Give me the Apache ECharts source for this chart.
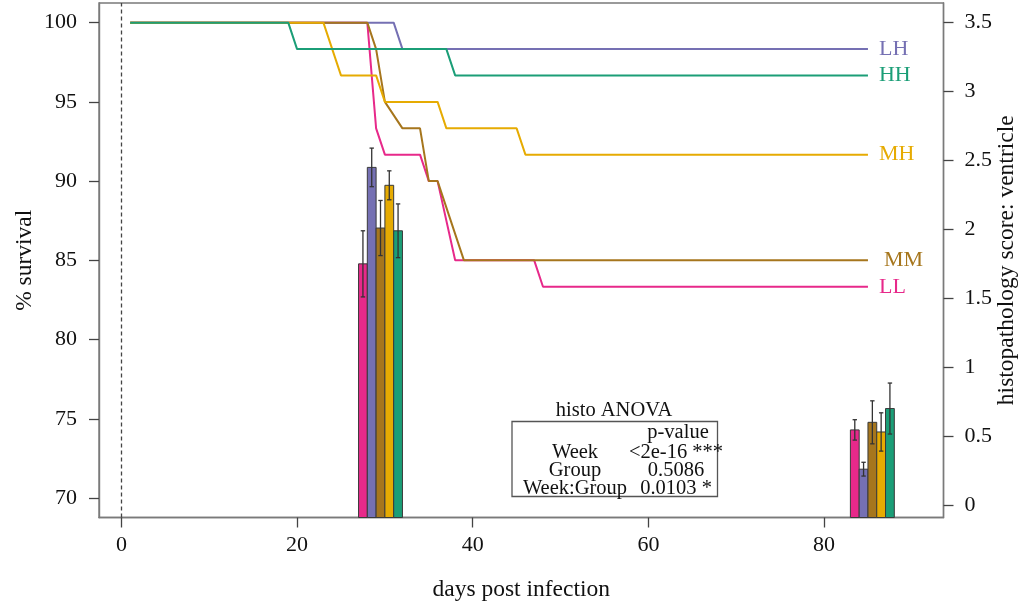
<!DOCTYPE html>
<html>
<head>
<meta charset="utf-8">
<title>Survival and histopathology</title>
<script src="https://cdn.jsdelivr.net/npm/echarts@6/dist/echarts.min.js"></script>
<style>
  html, body { margin: 0; padding: 0; background: #ffffff; }
  #chart { width: 1028px; height: 606px; }
</style>
</head>
<body>
<div id="chart"></div>
<script>
// ---- data ----------------------------------------------------------------
// Treatment groups, in the order the histology bars are drawn
const groups = ['LL', 'LH', 'MM', 'MH', 'HH'];
const groupColors = ['#E7298A', '#7570B3', '#A6761D', '#E6AB02', '#1B9E77'];

// Kaplan–Meier style survival (%), [day, percent] breakpoints per group
const survivalLL = [[1, 100], [28, 100], [29, 93.33], [30, 91.67], [34, 91.67], [35, 90], [36, 90], [38, 85], [47, 85], [48, 83.33], [85, 83.33]];
const survivalLH = [[1, 100], [31, 100], [32, 98.33], [85, 98.33]];
const survivalMM = [[1, 100], [28, 100], [29, 98.33], [30, 95], [32, 93.33], [34, 93.33], [35, 90], [36, 90], [39, 85], [85, 85]];
const survivalMH = [[1, 100], [23, 100], [25, 96.67], [29, 96.67], [30, 95], [36, 95], [37, 93.33], [45, 93.33], [46, 91.67], [85, 91.67]];
const survivalHH = [[1, 100], [19, 100], [20, 98.33], [37, 98.33], [38, 96.67], [85, 96.67]];

// Histopathology score (ventricle): mean and error per group, at two samplings
const histoStartDays = [27, 83];            // first bar's left edge (day) per sampling
const histoWeek4 = [1.75, 2.45, 2.01, 2.32, 1.99];
const histoWeek4Err = [0.24, 0.14, 0.20, 0.105, 0.195];
const histoWeek12 = [0.545, 0.26, 0.60, 0.53, 0.70];
const histoWeek12Err = [0.074, 0.05, 0.156, 0.139, 0.185];

// Axis ticks
const dayTicks = [0, 20, 40, 60, 80];
const survivalTicks = [70, 75, 80, 85, 90, 95, 100];
const scoreTicks = [0, 0.5, 1, 1.5, 2, 2.5, 3, 3.5];

// ANOVA summary table
const anovaTerms = ['Week', 'Group', 'Week:Group'];
const anovaP = ['<2e-16 ***', '0.5086', '0.0103 *'];

// ---- chart ---------------------------------------------------------------
const FONT = "'Liberation Serif', 'Times New Roman', serif";
const DAY_MIN = -2.55, DAY_MAX = 93.6;
const SURV_MIN = 68.77, SURV_MAX = 101.24;
const SCORE_MIN = -0.0907, SCORE_MAX = 3.643;

const survival = [survivalLL, survivalLH, survivalMM, survivalMH, survivalHH];

const histoData = [];
[histoWeek4, histoWeek12].forEach(function (vals, w) {
  const errs = w === 0 ? histoWeek4Err : histoWeek12Err;
  vals.forEach(function (v, i) {
    const x0 = histoStartDays[w] + i;
    histoData.push([x0, x0 + 1, v, errs[i], i]);
  });
});

function renderHisto(params, api) {
  const x0 = api.value(0), x1 = api.value(1), v = api.value(2), e = api.value(3);
  const gi = api.value(4);
  const tl = api.coord([x0, v]);
  const br = api.coord([x1, SCORE_MIN]);
  const xc = (x0 + x1) / 2;
  const top = api.coord([xc, v + e]);
  const bot = api.coord([xc, v - e]);
  const cap = 2.2;
  const errStyle = { stroke: '#333333', lineWidth: 1.3 };
  return {
    type: 'group',
    children: [
      {
        type: 'rect',
        shape: { x: tl[0], y: tl[1], width: br[0] - tl[0], height: br[1] - tl[1] },
        style: { fill: groupColors[gi], stroke: '#3a3a3a', lineWidth: 1 }
      },
      { type: 'line', shape: { x1: top[0], y1: top[1], x2: bot[0], y2: bot[1] }, style: errStyle },
      { type: 'line', shape: { x1: top[0] - cap, y1: top[1], x2: top[0] + cap, y2: top[1] }, style: errStyle },
      { type: 'line', shape: { x1: bot[0] - cap, y1: bot[1], x2: bot[0] + cap, y2: bot[1] }, style: errStyle }
    ]
  };
}

const lineSeries = survival.map(function (pts, i) {
  return {
    name: groups[i],
    type: 'line',
    yAxisIndex: 0,
    data: pts,
    showSymbol: false,
    symbol: 'none',
    silent: true,
    lineStyle: { color: groupColors[i], width: 2 },
    itemStyle: { color: groupColors[i] },
    endLabel: {
      show: true,
      formatter: '{a}',
      color: groupColors[i],
      fontFamily: FONT,
      fontSize: 22,
      distance: groups[i] === 'MM' ? 16 : 11
    },
    z: 3
  };
});

// dashed reference at day 0
lineSeries[0].markLine = {
  silent: true,
  symbol: ['none', 'none'],
  label: { show: false },
  lineStyle: { type: [4, 3], color: '#444444', width: 1.3 },
  data: [{ xAxis: 0 }]
};

// ANOVA table: frame and text
const tableLeft = 512, tableTop = 421.5, tableW = 205.5, tableH = 75;
const col1 = 575, col2 = 676;
const rowY = [453, 471, 489];
const tableFont = '20.5px ' + FONT;
function tableLabel(text, x, y) {
  return { type: 'text', z: 11, style: { text: text, x: x, y: y, font: tableFont, fill: '#111', textAlign: 'center', textVerticalAlign: 'middle' } };
}
const tableGraphics = [
  {
    type: 'rect', z: 10,
    shape: { x: tableLeft, y: tableTop, width: tableW, height: tableH },
    style: { fill: '#ffffff', stroke: '#555555', lineWidth: 1.3 }
  },
  tableLabel('histo ANOVA', 614, 411),
  tableLabel('p-value', 678, 433)
];
anovaTerms.forEach(function (t, i) {
  tableGraphics.push(tableLabel(t, col1, rowY[i]));
  tableGraphics.push(tableLabel(anovaP[i], col2, rowY[i]));
});

const chart = echarts.init(document.getElementById('chart'), null, { renderer: 'canvas' });

const axisLabelBase = { fontFamily: FONT, fontSize: 22, color: '#111' };
const frameLine = { show: true, onZero: false, lineStyle: { color: '#7a7a7a', width: 1.4 } };
const nameStyle = { fontFamily: FONT, fontSize: 23.5, color: '#111' };

chart.setOption({
  animation: false,
  backgroundColor: '#ffffff',
  grid: {
    left: 99, right: 84.5, top: 3, bottom: 88.5,
    outerBoundsMode: 'none',
    containLabel: false,
    show: true, borderColor: '#7a7a7a', borderWidth: 1.4, backgroundColor: 'transparent'
  },
  xAxis: {
    type: 'value',
    min: DAY_MIN, max: DAY_MAX,
    name: 'days post infection',
    nameLocation: 'middle',
    nameMoveOverlap: false,
    nameGap: 60,
    nameTextStyle: nameStyle,
    axisLine: frameLine,
    axisTick: { show: true, inside: false, customValues: dayTicks, length: 10, lineStyle: { color: '#444', width: 1.3 } },
    axisLabel: Object.assign({ customValues: dayTicks, margin: 17 }, axisLabelBase),
    splitLine: { show: false }
  },
  yAxis: [
    {
      type: 'value',
      position: 'left',
      min: SURV_MIN, max: SURV_MAX,
      name: '% survival',
      nameLocation: 'middle',
      nameMoveOverlap: false,
      nameGap: 62,
      nameTextStyle: nameStyle,
      axisLine: frameLine,
      axisTick: { show: true, inside: false, customValues: survivalTicks, length: 10, lineStyle: { color: '#444', width: 1.3 } },
      axisLabel: Object.assign({ customValues: survivalTicks, margin: 22 }, axisLabelBase),
      splitLine: { show: false }
    },
    {
      type: 'value',
      position: 'right',
      min: SCORE_MIN, max: SCORE_MAX,
      name: 'histopathology score: ventricle',
      nameLocation: 'middle',
      nameMoveOverlap: false,
      nameGap: 51,
      nameRotate: 90,
      nameTextStyle: nameStyle,
      axisLine: frameLine,
      axisTick: { show: true, inside: false, customValues: scoreTicks, length: 10, lineStyle: { color: '#444', width: 1.3 } },
      axisLabel: Object.assign({ customValues: scoreTicks, margin: 21 }, axisLabelBase),
      splitLine: { show: false }
    }
  ],
  series: [
    {
      name: 'histo',
      type: 'custom',
      yAxisIndex: 1,
      renderItem: renderHisto,
      data: histoData,
      silent: true,
      z: 2
    }
  ].concat(lineSeries),
  graphic: tableGraphics
});
</script>
</body>
</html>
